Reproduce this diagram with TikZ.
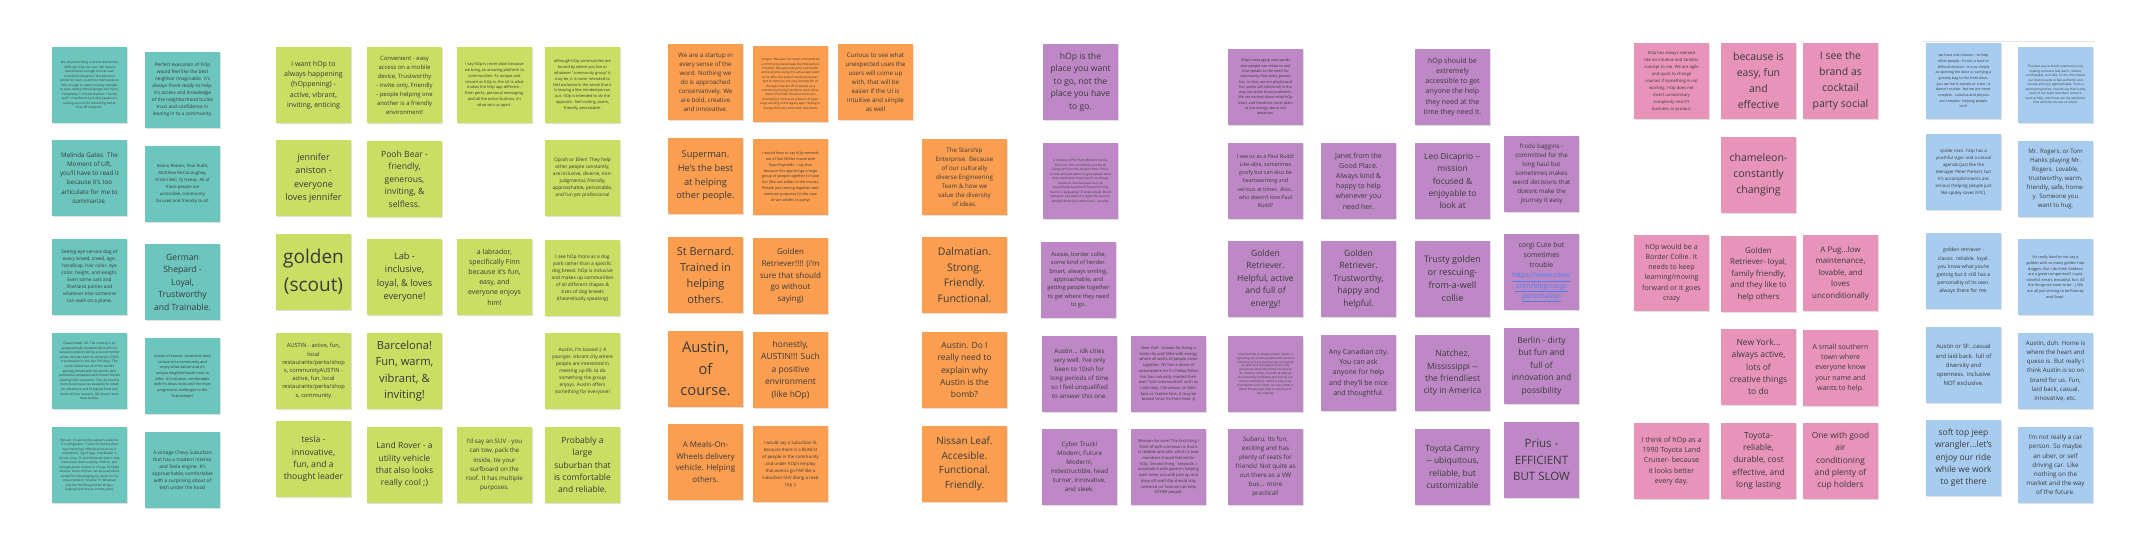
\documentclass[tikz,border=0pt]{standalone}
\usepackage{fontspec}
\setmainfont{Open Sans}
\usepackage{xcolor}
\usepackage{tikz}
\usetikzlibrary{shadows}
\definecolor{tealnote}{HTML}{6CC6BE}
\definecolor{limenote}{HTML}{C9DE62}
\definecolor{orangenote}{HTML}{FB9E50}
\definecolor{purplenote}{HTML}{BE88C6}
\definecolor{pinknote}{HTML}{E893B9}
\definecolor{bluenote}{HTML}{A8CCF0}
\definecolor{ink}{HTML}{3A3A3A}
\definecolor{linkblue}{HTML}{4A7FE8}
\definecolor{framegrey}{HTML}{E6E6E6}
\newcommand{\lnk}[1]{\textcolor{linkblue}{\underline{#1}}}
% [width], name, colour, left, top, font size, line height, text
\newcommand{\sticky}[8][75]{%
  \node[note, minimum width=#1pt, fill=#3, font=\fontsize{#6}{#7}\selectfont]
    (#2) at (#4+#1/2, #5+38) {#8};}

\begin{document}
\begin{tikzpicture}[x=1pt, y=-1pt,
    note/.style={rectangle, minimum height=76pt,
      inner sep=2pt, align=center, text=ink,
      drop shadow={shadow xshift=0.5pt, shadow yshift=-1.2pt, fill=black, opacity=0.12}}]
  \fill[white] (0,0) rectangle (2137,556);
  \useasboundingbox (0,0) rectangle (2137,556);

  % teal
  \sticky{teal1}{tealnote}{52}{47}{3.1}{4.5}{We are performing a service that will be\\100\% opt-in by the user. We have to\\manufacture enough trust at each\\emotional obstacle in the attention\\funnel for users to entrust themselves to\\hOp enough to meet a nearby stranger\\at scale risking mortal danger and injury.\\Complexity + chrome buttons + clunky\\stuff + inauthenticity is why people are\\looking around for something better\\than FB networks.}
  \sticky{teal2}{tealnote}{145}{52}{4.8}{7}{Perfect execution of hOp\\would feel like the best\\neighbor imaginable. It's\\always there ready to help.\\It's access and knowledge\\of the neighborhood builds\\trust and confidence in\\leaning in to a community.}
  \sticky{teal3}{tealnote}{52}{140}{6.3}{9.2}{Melinda Gates. The\\Moment of Lift,\\you'll have to read it\\because it's too\\articulate for me to\\summarize.}
  \sticky{teal4}{tealnote}{145}{146}{4.3}{6.9}{Keanu Reeves, Paul Rudd,\\Matthew McConaughey,\\Kristin Bell, Ty Haney. All of\\these people are\\accessible, community\\focused and friendly to all.}
  \sticky{teal5}{tealnote}{52}{239}{4.8}{7}{Seeing eye service dog of\\every breed, creed, age,\\handicap, hair color, eye\\color, height, and weight.\\Even some cats and\\Shetland ponies and\\whatever else someone\\can walk on a plane.}
  \sticky{teal6}{tealnote}{145}{244}{8.6}{12.5}{German\\Shepard -\\Loyal,\\Trustworthy\\and Trainable.}
  \sticky{teal7}{tealnote}{52}{333}{3.2}{4.6}{Queenstown, NZ. The country is an\\geographically isolated island with no\\natural predators led by a recent mother\\prime minister with no domestic COVID\\transmission in the last 100 days. The\\South Island has all of the world's\\geology dotted with the worlds best\\communal campsites with instant friends\\sharing their resources. The city has the\\most local resources available to refuel\\for adventure and find great food and\\music all four seasons. NZ doesn't even\\have snakes.}
  \sticky{teal8}{tealnote}{145}{338}{3.7}{5.7}{Austin of course. Austinites tend\\to lean in to community and\\enjoy what nature and it's\\unique neighborhoods have to\\offer.  It's inclusive, comfortable\\with it's texas roots and the most\\progressive challenges to the\\"mainstream"}
  \sticky{teal9}{tealnote}{52}{427}{3.1}{4.5}{My van. It's got comfy captain's seats for\\6, a refrigerator, 7 sacks of clothes (that\\was matching), offroad accessories, 6\\snowshoes, 4 golf bags, 4 pickleball, 6\\tennis, 4 ipu, TV and Nintendo Switch that\\have never been used by children, and\\enough power outlets to charge 18 Apple\\devices. None of them can be used alone\\except for time playing my music on my\\social network. Volume 11! Whatever\\bits dot the thing and we bring a\\helping hand are an instant party.}
  \sticky{teal10}{tealnote}{145}{432}{4.8}{7}{A vintage Chevy Suburban\\that has a modern interior\\and Tesla engine. It's\\approachable, comfortable\\with a surprising about of\\tech under the hood}

  % lime
  \sticky{lime1}{limenote}{276}{47}{7}{10.2}{i want hOp to\\always happening\\(hOppening) -\\active, vibrant,\\inviting, enticing}
  \sticky{lime2}{limenote}{367}{47}{5.9}{9}{Convenient - easy\\access on a mobile\\device, Trustworthy\\- invite only, Friendly\\- people helping one\\another is a friendly\\environment!}
  \sticky{lime3}{limenote}{457}{47}{3.9}{5.8}{I say hOp is never plain because\\we bring an amazing platform to\\communities. As unique and\\sincere as hOp is, the UX is what\\makes the hOp app different -\\from perks, personal messaging,\\and all the action buttons, it's\\what sets us apart.}
  \sticky{lime4}{limenote}{545}{47}{3.9}{5.8}{although hOp communities are\\bound by where you live or\\whatever "community group" it\\may be, it is never intended to\\feel exclusive in the sense that it\\is leaving a like-minded person\\out. hOp is intended to do the\\opposite - feel inviting, warm,\\friendly, personable.}
  \sticky{lime5}{limenote}{276}{140}{9}{13.5}{jennifer\\aniston -\\everyone\\loves jennifer}
  \sticky{lime6}{limenote}{367}{141}{8.6}{12.5}{Pooh Bear -\\friendly,\\generous,\\inviting, \&\\selfless.}
  \sticky{lime7}{limenote}{545}{140}{4.8}{7}{Oprah or Ellen! They help\\other people constantly,\\are inclusive, diverse, non-\\judgmental, friendly,\\approachable, personable,\\and fun yet professional}
  \sticky{lime8}{limenote}{276}{234}{19}{27.7}{golden\\(scout)}
  \sticky{lime9}{limenote}{367}{239}{9.2}{13.3}{Lab -\\inclusive,\\loyal, \& loves\\everyone!}
  \sticky{lime10}{limenote}{457}{239}{7}{10.2}{a labrador,\\specifically Finn\\because it's fun,\\easy, and\\everyone enjoys\\him!}
  \sticky{lime11}{limenote}{545}{240}{4.8}{7}{I see hOp more as a dog\\park rather than a specific\\dog breed. hOp is inclusive\\and makes up communities\\of all different shapes \&\\sizes of dog breeds\\(theoretically speaking)}
  \sticky{lime12}{limenote}{276}{333}{5.7}{8.2}{AUSTIN - active, fun,\\local\\restaurants/perks/shop\\s, communityAUSTIN -\\active, fun, local\\restaurants/perks/shop\\s, community}
  \sticky{lime13}{limenote}{367}{333}{11.2}{16.3}{Barcelona!\\Fun, warm,\\vibrant, \&\\inviting!}
  \sticky{lime14}{limenote}{545}{333}{4.8}{7}{Austin, I'm biased :) A\\younger, vibrant city where\\people are interested in\\meeting up IRL to do\\something the group\\enjoys. Austin offers\\something for everyone!}
  \sticky{lime15}{limenote}{276}{421}{8.6}{12.4}{tesla -\\innovative,\\fun, and a\\thought leader}
  \sticky{lime16}{limenote}{367}{427}{8.5}{12.3}{Land Rover - a\\utility vehicle\\that also looks\\really cool ;)}
  \sticky{lime17}{limenote}{457}{427}{6.2}{9.1}{I'd say an SUV - you\\can tow, pack the\\inside, tie your\\surfboard on the\\roof. It has multiple\\purposes.}
  \sticky{lime18}{limenote}{545}{427}{8.5}{12.3}{Probably a\\large\\suburban that\\is comfortable\\and reliable.}

  % orange
  \sticky{orange1}{orangenote}{668}{44}{6.2}{9}{We are a startup in\\every sense of the\\word. Nothing we\\do is approached\\conservatively. We\\are bold, creative\\and innovative.}
  \sticky{orange2}{orangenote}{753}{46}{3.1}{4.4}{Unique: Because I've never encountered\\a community-based app like hOp before.\\Friendly: Because everyone I work with\\and everyone using the actual app seem\\to be after the same friendly purposes.\\Not to mention the very foundation of\\the app is based off of people as a\\community being friendly to each other.\\Never Polished: Because there are\\(honestly) a ridiculous amount of open\\bugs existing in the legacy app. Hoping to\\change that very soon with new team.}
  \sticky{orange3}{orangenote}{838}{44}{6.2}{9}{Curious to see what\\unexpected uses the\\users will come up\\with, that will be\\easier if the UI is\\intuitive and simple\\as well}
  \sticky{orange4}{orangenote}{668}{138}{9.3}{13.6}{Superman.\\He's the best\\at helping\\other people.}
  \sticky{orange5}{orangenote}{753}{139}{3.7}{5.8}{I would have to say hOp reminds\\me of Van Wilder movie with\\Ryan Reynolds. I say that\\because this app brings a large\\group of people together to have\\fun (like van wilder in the movie).\\People just coming together with\\common purposes (in the case\\of van wilder, to party)}
  \sticky[85]{orange6}{orangenote}{922}{139}{6.2}{9}{The Starship\\Enterprise. Because\\of our culturally\\diverse Engineering\\Team \& how we\\value the diversity\\of ideas.}
  \sticky{orange7}{orangenote}{668}{237}{11}{16}{St Bernard.\\Trained in\\helping\\others.}
  \sticky{orange8}{orangenote}{753}{238}{8}{11.7}{Golden\\Retriever!!!! (i'm\\sure that should\\go without\\saying)}
  \sticky[85]{orange9}{orangenote}{922}{237}{10.5}{15.5}{Dalmatian.\\Strong.\\Friendly.\\Functional.}
  \sticky{orange10}{orangenote}{668}{331}{14.7}{21.3}{Austin,\\of\\course.}
  \sticky{orange11}{orangenote}{753}{332}{8.5}{12.4}{honestly,\\AUSTIN!!! Such\\a positive\\environment\\(like hOp)}
  \sticky[85]{orange12}{orangenote}{922}{332}{8.5}{12.4}{Austin. Do I\\really need to\\explain why\\Austin is the\\bomb?}
  \sticky{orange13}{orangenote}{668}{424}{8}{11.6}{A Meals-On-\\Wheels delivery\\vehicle. Helping\\others.}
  \sticky{orange14}{orangenote}{753}{426}{4.4}{7}{I would say a Suburban XL\\because there is a BUNCH\\of people in the community\\and under hOp's employ\\that wanna go FAR like a\\suburban SUV doing a road\\trip :)}
  \sticky[85]{orange15}{orangenote}{922}{426}{10}{14.5}{Nissan Leaf.\\Accesible.\\Functional.\\Friendly.}

  % purple
  \sticky{purple1}{purplenote}{1043}{44}{8.6}{12.5}{hOp is the\\place you want\\to go, not the\\place you have\\to go.}
  \sticky{purple2}{purplenote}{1228}{49}{3.7}{5.3}{hOp's messaging uses words\\that people can relate to and\\that speaks to the need for\\community that every person\\has. In that, we are playful and\\fun (while still informed) in the\\way we tackle these problems.\\We are excited about what hOp\\does, and therefore never plain\\or low energy about our\\initiatives.}
  \sticky{purple3}{purplenote}{1415}{49}{7.1}{10.3}{hOp should be\\extremely\\accessible to get\\anyone the help\\they need at the\\time they need it.}
  \sticky{purple4}{purplenote}{1043}{143}{3.1}{4.5}{A mixture of Phil from Modern Family,\\Rick from Rick and Morty and Brock\\Sampson from the Venture Bros. Phil is\\so nice and just wants to give people what\\they need when they need it no strings\\attached. Rick because he is so\\scientifically based and future thinking\\that he is (arguably) 10 steps ahead. Brock\\Sampson because he is hyper focused on\\family/friends and most of all... security.}
  \sticky{purple5}{purplenote}{1228}{143}{5.3}{8.2}{I see us as a Paul Rudd:\\Like-able, sometimes\\goofy but can also be\\heartwarming and\\serious at times. Also..\\who doesn't love Paul\\Rudd?}
  \sticky{purple6}{purplenote}{1321}{143}{7}{10.2}{Janet from the\\Good Place.\\Always kind \&\\happy to help\\whenever you\\need her.}
  \sticky{purple7}{purplenote}{1415}{143}{8.4}{12.2}{Leo Dicaprio -{}-\\mission\\focused \&\\enjoyable to\\look at}
  \sticky{purple8}{purplenote}{1504}{136}{6.2}{9}{frodo baggins -\\committed for the\\long haul but\\sometimes makes\\weird decisions that\\doesnt make the\\journey it easy}
  \sticky{purple9}{purplenote}{1041}{242}{5.7}{8.3}{Aussie, border collie,\\some kind of herder.\\Smart, always smiling,\\approachable, and\\getting people together\\to get where they need\\to go.}
  \sticky{purple10}{purplenote}{1228}{241}{8.6}{12.5}{Golden\\Retriever.\\Helpful, active\\and full of\\energy!}
  \sticky{purple11}{purplenote}{1321}{241}{8.6}{12.5}{Golden\\Retriever.\\Trustworthy,\\happy and\\helpful.}
  \sticky{purple12}{purplenote}{1415}{241}{9}{13}{Trusty golden\\or rescuing-\\from-a-well\\collie}
  \sticky{purple13}{purplenote}{1504}{234}{7}{10.2}{corgi Cute but\\sometimes\\trouble\\\lnk{https://www.rover}\\\lnk{.com/blog/corgi-}\\\lnk{personality/}}
  \sticky{purple14}{purplenote}{1042}{336}{6.2}{9}{Austin... idk cities\\very well. I've only\\been to 10ish for\\long periods of time\\so I feel unqualified\\to answer this one.}
  \sticky{purple15}{purplenote}{1131}{336}{4}{5.7}{New York - known for being a\\lively city and filled with energy\\where all walks of people come\\together. NY has a sense of\\camaraderie for it's fellow NYers\\but has naturally created their\\own "sub-communities" such as\\Little Italy, Chinatown, or Mets\\fans vs Yankee fans. (I may be\\biased since I'm from here :))}
  \sticky{purple16}{purplenote}{1228}{336}{2.9}{3.9}{I feel like hOp is actually Austin. Austin is\\a growing city and the people who are from\\here love it! It is a city that has a lot going\\on with a lot of people that are very\\passionate about what they are here to\\do. Similar to that, I feel like at hOp we\\are extremely motivated and lead by our\\mission and ethos. Austin is also a city\\that stands out in Texas. It is very distinct.\\Much like we want hOp to stand out in\\our industry.}
  \sticky{purple17}{purplenote}{1321}{335}{7}{10.2}{Any Canadian city.\\You can ask\\anyone for help\\and they'll be nice\\and thoughtful.}
  \sticky{purple18}{purplenote}{1415}{335}{8.5}{12.4}{Natchez,\\Mississippi -{}-\\the friendliest\\city in America}
  \sticky{purple19}{purplenote}{1504}{328}{8.5}{12.4}{Berlin - dirty\\but fun and\\full of\\innovation and\\possibility}
  \sticky{purple20}{purplenote}{1042}{429}{6.2}{9}{Cyber Truck!\\Modern, Future\\Modern!,\\indestructible, head\\turner, innovative,\\and sleek.}
  \sticky{purple21}{purplenote}{1131}{429}{4}{5.7}{Minivan for sure! The first thing I\\think of with a minivan is that it\\is reliable and safe, which is how\\members should feel within\\hOp. Second thing - carpools. I\\associate it with parent's helping\\each other out with pick up and\\drop off and hOp should stay\\centered on 'how we can help\\OTHER people.}
  \sticky{purple22}{purplenote}{1228}{429}{6.3}{9.1}{Subaru. Its fun,\\exciting and has\\plenty of seats for\\friends! Not quite as\\out there as a VW\\bus... more\\practical!}
  \sticky{purple23}{purplenote}{1415}{429}{8.5}{12.3}{Toyota Camry\\-{}- ubiquitous,\\reliable, but\\customizable}
  \sticky{purple24}{purplenote}{1504}{422}{11.5}{16.7}{Prius -\\EFFICIENT\\BUT SLOW}

  % pink
  \sticky{pink1}{pinknote}{1634}{43}{4.2}{7}{hOp has always seemed\\like an intuitive and familiar\\concept to me. We are agile\\and quick to change\\courses if something is not\\working. hOp does not\\insert unnecessary\\complexity into it's\\business or product}
  \sticky{pink2}{pinknote}{1721}{43}{10.5}{16}{because is\\easy, fun\\and\\effective}
  \sticky{pink3}{pinknote}{1803}{43}{10.5}{16}{I see the\\brand as\\cocktail\\party social}
  \sticky{pink4}{pinknote}{1721}{137}{10.5}{16}{chameleon-\\constantly\\changing}
  \sticky{pink5}{pinknote}{1634}{235}{7.1}{10.3}{hOp would be a\\Border Collie. It\\needs to keep\\learning/moving\\forward or it goes\\crazy}
  \sticky{pink6}{pinknote}{1721}{236}{7.9}{11.5}{Golden\\Retriever- loyal,\\family friendly,\\and they like to\\help others}
  \sticky{pink7}{pinknote}{1803}{235}{7.9}{11.5}{A Pug...low\\maintenance,\\lovable, and\\loves\\unconditionally}
  \sticky{pink8}{pinknote}{1721}{329}{8.5}{12.3}{New York...\\always active,\\lots of\\creative things\\to do}
  \sticky{pink9}{pinknote}{1803}{330}{7.1}{10.3}{A small southern\\town where\\everyone know\\your name and\\wants to help.}
  \sticky{pink10}{pinknote}{1634}{423}{7.1}{10.3}{I think of hOp as a\\1990 Toyota Land\\Cruiser- because\\it looks better\\every day.}
  \sticky{pink11}{pinknote}{1721}{423}{8.4}{12.2}{Toyota-\\reliable,\\durable, cost\\effective, and\\long lasting}
  \sticky{pink12}{pinknote}{1803}{423}{8.4}{12.2}{One with good\\air\\conditioning\\and plenty of\\cup holders}

  % blue
  \draw[framegrey, line width=1pt] (1923,42) -- (2095,42);
  \sticky{blue1}{bluenote}{1926}{43}{3.6}{5.7}{we have one mission - to help\\other people. It's not a hard or\\difficult mission - it is as simple\\as opening the door or carrying a\\grocery bag to the front door.\\you can be in sweats or a tux - it\\doesn't matter. but we are never\\complex - calculus and physics\\are complex. helping people\\isn't!}
  \sticky{blue2}{bluenote}{2018}{47}{3.1}{4.5}{The best way to build community is by\\making someone feel warm, invited,\\comfortable, and safe. To me, this means\\our brand needs to feel authentic and\\sincere and very approachable. From a\\talent perspective, I would say that is why\\most of our team members come to\\work at hOp, and those are the attributes\\that will help me recruit talent.}
  \sticky{blue3}{bluenote}{1926}{134}{4.4}{7}{spider man. hOp has a\\youthful vigor and a casual\\agenda (just like the\\teenager Peter Parker), but\\it's accomplishments are\\serious (helping people just\\like spidey saves NYC).}
  \sticky{blue4}{bluenote}{2018}{141}{6.1}{9}{Mr. Rogers, or Tom\\Hanks playing Mr.\\Rogers. Lovable,\\trustworthy, warm,\\friendly, safe, home-\\y. Someone you\\want to hug.}
  \sticky{blue5}{bluenote}{1926}{233}{5.1}{8.2}{golden retriever -\\classic. reliable. loyal.\\you know what you're\\getting but it still has a\\personality of its own.\\always there for me.}
  \sticky{blue6}{bluenote}{2018}{239}{3.8}{5.6}{It's really hard to not say a\\golden with so many golden hop\\doggos. But I do think Goldens\\are a great comparison!! Loyal,\\colorful, smart, beautiful, fun. All\\the things we want to be : ) We\\are all just striving to be Rooney\\and Scout.}
  \sticky{blue7}{bluenote}{1926}{327}{5.9}{9.2}{Austin or SF...casual\\and laid back. full of\\diversity and\\openness. inclusive\\NOT exclusive.}
  \sticky{blue8}{bluenote}{2018}{333}{6.1}{9.1}{Austin, duh. Home is\\where the heart and\\queso is. But really I\\think Austin is so on\\brand for us. Fun,\\laid back, casual,\\innovative, etc.}
  \sticky{blue9}{bluenote}{1926}{420}{8.5}{12.3}{soft top jeep\\wrangler...let's\\enjoy our ride\\while we work\\to get there}
  \sticky{blue10}{bluenote}{2018}{427}{6.3}{9.2}{I'm not really a car\\person. So maybe\\an uber, or self\\driving car. Like\\nothing on the\\market and the way\\of the future.}
\end{tikzpicture}
\end{document}
